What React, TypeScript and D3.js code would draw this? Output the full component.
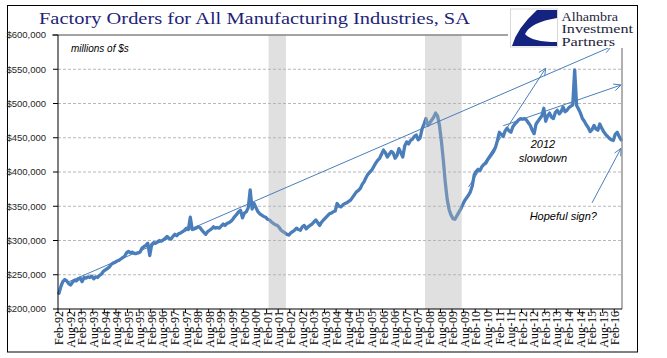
import React from "react";
import * as d3 from "d3";

// ---------- data ----------
const MONTH_ABBR = ["Jan", "Feb", "Mar", "Apr", "May", "Jun", "Jul", "Aug", "Sep", "Oct", "Nov", "Dec"];
const START_YEAR = 1992;
const START_MONTH = 1; // Feb

// Factory orders, thousands of $ millions, monthly from Feb-92
const ordersK: number[] = [
  // 1992 (Feb–Dec)
  223, 233, 240, 243, 241, 237, 235, 239, 242, 241, 244,
  // 1993
  245, 240, 246, 245, 247, 246, 248, 244, 247, 246, 249, 251,
  // 1994
  255, 257, 259, 261, 265, 267, 268, 270, 271, 273, 275, 277,
  // 1995
  282, 284, 282, 283, 281, 281, 282, 283, 289, 291, 293, 296,
  // 1996
  278, 294, 297, 296, 298, 300, 299, 301, 303, 306, 303, 302,
  // 1997
  306, 309, 307, 310, 311, 313, 315, 318, 316, 334, 316, 317,
  // 1998
  318, 320, 319, 315, 312, 309, 313, 315, 317, 320, 318, 319,
  // 1999
  318, 321, 324, 322, 325, 326, 328, 331, 335, 338, 342, 344,
  // 2000
  333, 340, 342, 348, 374, 346, 354, 348, 342, 339, 337, 335,
  // 2001
  334, 331, 330, 327, 325, 323, 322, 319, 315, 313, 311, 309,
  // 2002
  308, 311, 313, 315, 318, 316, 315, 320, 322, 317, 320, 322,
  // 2003
  324, 327, 330, 326, 322, 327, 330, 333, 336, 339, 340, 342,
  // 2004
  343, 354, 350, 349, 352, 354, 355, 357, 359, 363, 367, 371,
  // 2005
  373, 376, 382, 386, 392, 397, 400, 403, 408, 413, 417, 420,
  // 2006
  426, 432, 428, 422, 426, 430, 428, 420, 424, 434, 428, 422,
  // 2007
  438, 444, 441, 446, 448, 452, 454, 447, 450, 463, 470, 478,
  // 2008
  468, 472, 476, 480, 486, 482, 468, 445, 417, 385, 360, 345,
  // 2009
  337, 332, 331, 336, 341, 346, 352, 358, 362, 366, 371, 380,
  // 2010
  396, 401, 404, 402, 408, 411, 413, 418, 422, 426, 430, 436,
  // 2011
  446, 458, 455, 452, 460, 464, 460, 458, 466, 470, 473, 476,
  // 2012
  478, 477, 478, 476, 472, 468, 461, 456, 470, 474, 478, 482,
  // 2013
  493, 474, 482, 486, 480, 478, 487, 490, 485, 488, 495, 488,
  // 2014
  490, 494, 496, 498, 549, 497, 492, 486, 478, 474, 469, 465,
  // 2015
  459, 462, 468, 463, 461, 470, 464, 459, 455, 452, 449, 447,
  // 2016 (Jan–May)
  446, 455, 458, 452, 447,
];

const months: string[] = ordersK.map((_, i) => {
  const t = START_MONTH + i;
  const yr = (START_YEAR + Math.floor(t / 12)) % 100;
  return `${MONTH_ABBR[t % 12]}-${String(yr).padStart(2, "0")}`;
});

const xTickLabels = [
  "Feb-92", "Aug-92", "Feb-93", "Aug-93", "Feb-94", "Aug-94", "Feb-95", "Aug-95",
  "Feb-96", "Aug-96", "Feb-97", "Aug-97", "Feb-98", "Aug-98", "Feb-99", "Aug-99",
  "Feb-00", "Aug-00", "Feb-01", "Aug-01", "Feb-02", "Aug-02", "Feb-03", "Aug-03",
  "Feb-04", "Aug-04", "Feb-05", "Aug-05", "Feb-06", "Aug-06", "Feb-07", "Aug-07",
  "Feb-08", "Aug-08", "Feb-09", "Aug-09", "Feb-10", "Aug-10", "Feb-11", "Aug-11",
  "Feb-12", "Aug-12", "Feb-13", "Aug-13", "Feb-14", "Aug-14", "Feb-15", "Aug-15",
  "Feb-16",
];

const yTicks = [200000, 250000, 300000, 350000, 400000, 450000, 500000, 550000, 600000];

const recessions: [string, string][] = [
  ["Mar-01", "Nov-01"],
  ["Dec-07", "Jun-09"],
];

// trend arrows: [month, value in K] -> [month, value in K]
const arrowFrom: [string, number][] = [["Jun-92", 238.5], ["Oct-09", 378], ["Apr-11", 467.5], ["Feb-15", 355]];
const arrowTo: [string, number][] = [["Dec-15", 583], ["Feb-13", 551.4], ["May-16", 527], ["May-16", 434.6]];

// ---------- layout ----------
const W = 667;
const H = 358;
const PL = 58, PR = 622, PT = 35, PB = 309;
const BLUE = "#4a7ebb";

export default function App() {
  const x = d3.scaleBand<string>().domain(months).range([PL, PR]).paddingInner(0).paddingOuter(0);
  const bw = x.bandwidth();
  const cx = (m: string) => (x(m) as number) + bw / 2;
  const y = d3.scaleLinear().domain([200000, 600000]).range([PB, PT]);
  const fmt = (v: number) => "$" + d3.format(",")(v);

  const line = d3
    .line<number>()
    .x((_, i) => cx(months[i]))
    .y((d) => y(d * 1000));

  const arrows = arrowFrom.map((f, i) => {
    const t = arrowTo[i];
    const x1 = cx(f[0]), y1 = y(f[1] * 1000), x2 = cx(t[0]), y2 = y(t[1] * 1000);
    const ang = Math.atan2(y2 - y1, x2 - x1);
    const L = 8, sp = 0.45;
    const h1 = [x2 - L * Math.cos(ang - sp), y2 - L * Math.sin(ang - sp)];
    const h2 = [x2 - L * Math.cos(ang + sp), y2 - L * Math.sin(ang + sp)];
    return { x1, y1, x2, y2, h1, h2 };
  });

  const monthTickIdx = xTickLabels.map((l) => months.indexOf(l));

  return (
    <svg
      width={W}
      height={H}
      style={{ position: "absolute", left: 0, top: 0, background: "#fff" }}
      xmlns="http://www.w3.org/2000/svg"
    >
      <rect x={0} y={0} width={W} height={H} fill="#fff" />
      {/* outer frame */}
      <rect x={7.5} y={5.5} width={630} height={346.5} fill="none" stroke="#000" strokeWidth={1} />

      {/* gridlines */}
      {yTicks.slice(1, -1).map((t) => (
        <line key={t} x1={PL} x2={PR} y1={y(t)} y2={y(t)} stroke="#a6a6a6" strokeWidth={0.8} strokeDasharray="3,2" />
      ))}

      {/* data line */}
      <path d={line(ordersK) || ""} fill="none" stroke={BLUE} strokeWidth={3.3} strokeLinejoin="round" strokeLinecap="round" />

      {/* recession shading */}
      {recessions.map(([a, b]) => (
        <rect
          key={a}
          x={x(a) as number}
          y={PT}
          width={(x(b) as number) + bw - (x(a) as number)}
          height={PB - PT}
          fill="#b2b2b2"
          fillOpacity={0.4}
        />
      ))}

      {/* trend arrows */}
      {arrows.map((a, i) => (
        <g key={i} stroke={BLUE} strokeWidth={1} fill="none">
          <line x1={a.x1} y1={a.y1} x2={a.x2} y2={a.y2} />
          <polyline points={`${a.h1[0]},${a.h1[1]} ${a.x2},${a.y2} ${a.h2[0]},${a.h2[1]}`} />
        </g>
      ))}

      {/* plot borders */}
      <line x1={52} x2={508} y1={PT} y2={PT} stroke="#868686" strokeWidth={1.3} />
      <line x1={PR} x2={PR} y1={48} y2={PB} stroke="#868686" strokeWidth={1.3} />

      {/* y axis */}
      <line x1={PL} x2={PL} y1={PT} y2={PB} stroke="#000" strokeWidth={1} />
      {yTicks.map((t) => (
        <g key={t}>
          <line x1={PL - 5} x2={PL} y1={y(t)} y2={y(t)} stroke="#000" strokeWidth={1} />
          <text
            x={46}
            y={y(t)}
            dy="0.35em"
            textAnchor="end"
            fontFamily="Liberation Sans, Arial, sans-serif"
            fontSize={9.5}
            fill="#262626"
          >
            {fmt(t)}
          </text>
        </g>
      ))}

      {/* x axis */}
      <line x1={PL} x2={PR} y1={PB} y2={PB} stroke="#000" strokeWidth={1} />
      {monthTickIdx.map((idx, k) => (
        <g key={k}>
          <line x1={x(months[idx]) as number} x2={x(months[idx]) as number} y1={PB} y2={PB + 4} stroke="#000" strokeWidth={1} />
          <text
            transform={`translate(${cx(months[idx])},${PB + 2}) rotate(-90)`}
            textAnchor="end"
            dy="0.35em"
            fontFamily="Liberation Serif, Times New Roman, serif"
            fontSize={12}
            fill="#000"
          >
            {xTickLabels[k]}
          </text>
        </g>
      ))}

      {/* title */}
      <text
        x={39}
        y={23.5}
        fontFamily="Liberation Serif, Times New Roman, serif"
        fontSize={17.5}
        fill="#1f1f78"
        textLength={431}
        lengthAdjust="spacingAndGlyphs"
      >
        Factory Orders for All Manufacturing Industries, SA
      </text>

      {/* unit label */}
      <text x={71} y={51.5} fontFamily="Liberation Sans, Arial, sans-serif" fontStyle="italic" fontSize={10} fill="#000">
        millions of $s
      </text>

      {/* annotations */}
      <g fontFamily="Liberation Sans, Arial, sans-serif" fontStyle="italic" fontSize={11} fill="#000" textAnchor="middle">
        <text x={543} y={148}>2012</text>
        <text x={543} y={161.5}>slowdown</text>
        <text x={563.3} y={219.5}>Hopeful sign?</text>
      </g>

      {/* logo */}
      <rect x={509} y={7} width={128} height={41} fill="#fff" />
      <rect x={510.5} y={9} width={47} height={38} fill="#fff" stroke="#cfcfcf" strokeWidth={0.8} />
      <path d="M557,10 L537,10 Q517,28 512,46 L557,46 L557,42 Q532,42 525,34 Q531,22 557,18 Z" fill="#13237f" />
      <g fontFamily="Liberation Serif, Times New Roman, serif" fontSize={12} fill="#1e1e3c">
        <text x={561.5} y={20.5} textLength={56.5} lengthAdjust="spacingAndGlyphs">Alhambra</text>
        <text x={561.5} y={33} textLength={71.5} lengthAdjust="spacingAndGlyphs">Investment</text>
        <text x={561.5} y={45.5} textLength={53.5} lengthAdjust="spacingAndGlyphs">Partners</text>
      </g>
    </svg>
  );
}
